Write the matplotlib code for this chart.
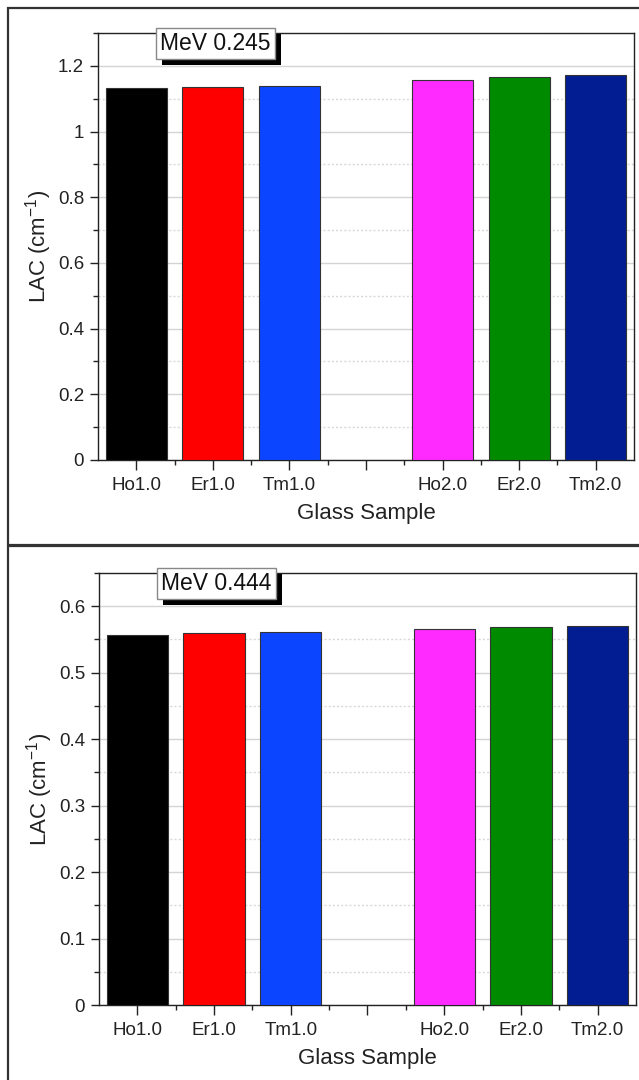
import numpy as np
import matplotlib
matplotlib.use("Agg")
import matplotlib.pyplot as plt
from matplotlib.patches import Rectangle
from matplotlib.ticker import MultipleLocator, FixedLocator, FuncFormatter

plt.rcParams['font.family'] = ['Liberation Sans', 'DejaVu Sans']
plt.rcParams['mathtext.fontset'] = 'custom'
plt.rcParams['mathtext.rm'] = 'Liberation Sans'
plt.rcParams['mathtext.it'] = 'Liberation Sans:italic'

# Data
samples = ["Ho1.0", "Er1.0", "Tm1.0", "", "Ho2.0", "Er2.0", "Tm2.0"]
positions = [1, 2, 3, 5, 6, 7]
bar_colors = ["#000000", "#ff0000", "#0b45ff", "#ff2aff", "#008a00", "#021d92"]
lac_0245 = [1.132, 1.136, 1.139, 1.157, 1.167, 1.172]
lac_0444 = [0.556, 0.560, 0.561, 0.566, 0.569, 0.571]
energies = ["MeV 0.245", "MeV 0.444"]

fig = plt.figure(figsize=(6.39, 10.8), dpi=100)

# outer frames around each panel (pixel coords, top-left origin)
W, H = 639.0, 1080.0
for (x0, y0, x1, y1) in [(8, 8, 660, 545), (8, 546, 660, 1100)]:
    fig.add_artist(Rectangle((x0 / W, 1 - y1 / H), (x1 - x0) / W, (y1 - y0) / H,
                             transform=fig.transFigure, fill=False,
                             edgecolor="#333333", lw=1.6, clip_on=False))

ax_top = fig.add_axes([98 / W, 1 - 460 / H, 536 / W, 427 / H])
ax_bot = fig.add_axes([99 / W, 1 - 1005 / H, 537 / W, 432 / H])

labels = []


def draw_panel(ax, values, ymax, major, label):
    ax.bar(positions, values, width=0.8, color=bar_colors,
           edgecolor="#333333", linewidth=0.8, zorder=3)
    ax.set_xlim(0.5, 7.5)
    ax.set_ylim(0, ymax)
    ax.set_xticks(range(1, 8))
    ax.set_xticklabels(samples)
    ax.xaxis.set_minor_locator(FixedLocator(np.arange(1.5, 7.0, 1.0)))
    ax.yaxis.set_major_locator(MultipleLocator(major))
    ax.yaxis.set_minor_locator(MultipleLocator(major / 2))
    ax.yaxis.set_major_formatter(FuncFormatter(lambda v, p: f"{v:g}"))

    ax.grid(axis="y", which="major", color="#d4d4d4", lw=1.0, zorder=0)
    ax.grid(axis="y", which="minor", color="#d8d8d8", lw=1.0, ls=(0, (1.5, 1.5)), zorder=0)
    ax.set_axisbelow(True)

    for s in ax.spines.values():
        s.set_color("#222222")
        s.set_linewidth(1.0)
    ax.tick_params(which="major", direction="out", length=6, width=1.0,
                   labelsize=13.5, colors="#222222", pad=4)
    ax.tick_params(which="minor", direction="out", length=3.5, width=1.0,
                   colors="#222222")
    ax.tick_params(axis="x", which="major", length=7, pad=5)

    ax.set_xlabel("Glass Sample", fontsize=16, color="#222222", labelpad=7)
    ax.set_ylabel("LAC (cm$^{-1}$)", fontsize=16, color="#222222", labelpad=3)

    # boxed energy label; its drop shadow is added after a draw
    t = ax.text(0.219, 0.976, label, transform=ax.transAxes, fontsize=16.5,
                ha="center", va="center", color="#111111", zorder=6,
                bbox=dict(boxstyle="square,pad=0.18", fc="white", ec="#888888", lw=1.0))
    labels.append(t)


draw_panel(ax_top, lac_0245, 1.3, 0.2, energies[0])
draw_panel(ax_bot, lac_0444, 0.65, 0.1, energies[1])

# black drop shadow behind each label box, offset 6 px right and down
fig.canvas.draw()
for t in labels:
    bb = t.get_bbox_patch().get_window_extent()
    fig.add_artist(Rectangle(((bb.x0 + 6) / W, (bb.y0 - 6) / H), bb.width / W, bb.height / H,
                             transform=fig.transFigure, fc="black", ec="none",
                             zorder=5, clip_on=False))
    t.set_zorder(7)
    # keep the label above the shadow patch
    t.remove()
    fig.add_artist(t)

fig.savefig("out.png", dpi=100)
